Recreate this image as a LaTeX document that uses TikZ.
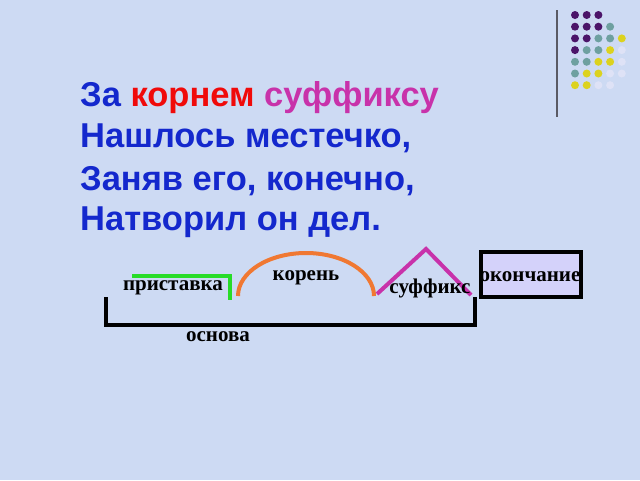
\documentclass[tikz,border=0pt]{standalone}
\usepackage{fontspec}
\setmainfont{Liberation Serif}
\setsansfont{Liberation Sans}
\definecolor{bg}{RGB}{205,218,243}
\definecolor{poemblue}{RGB}{20,40,205}
\definecolor{rootred}{RGB}{240,10,10}
\definecolor{sufmag}{RGB}{200,50,170}
\definecolor{prefgreen}{RGB}{40,220,40}
\definecolor{rootorange}{RGB}{240,120,50}
\definecolor{endfill}{RGB}{212,210,250}
\definecolor{dotP}{RGB}{75,20,105}
\definecolor{dotT}{RGB}{110,160,160}
\definecolor{dotY}{RGB}{220,210,30}
\definecolor{dotW}{RGB}{222,226,246}
\definecolor{rulegray}{RGB}{90,90,100}
\begin{document}
\begin{tikzpicture}[x=1pt,y=-1pt,
  poem/.style={anchor=base west,inner sep=0pt,text=poemblue,font=\sffamily\bfseries\fontsize{34.5}{34.5}\selectfont},
  lbl/.style={inner sep=0pt,text=black,font=\bfseries\fontsize{21}{21}\selectfont},
  part/.style={line width=4pt}]
\fill[bg] (0,0) rectangle (640,480);
\useasboundingbox (0,0) rectangle (640,480);
% decoration
\draw[rulegray,line width=1.5pt] (557,10) -- (557,117);
\foreach \r/\row in {0/{P,P,P},1/{P,P,P,T},2/{P,P,T,T,Y},3/{P,T,T,Y,W},4/{T,T,Y,Y,W},5/{T,Y,Y,W,W},6/{Y,Y,W,W}}{
  \foreach \c [count=\i from 0] in \row {
    \fill[dot\c] ({575+11.7*\i},{15+11.7*\r}) circle (4);
  }
}
% poem
\node[poem] (l1) at (80,106) {За \textcolor{rootred}{корнем} \textcolor{sufmag}{суффиксу}};
\node[poem] (l2) at (80,147.5) {Нашлось местечко,};
\node[poem] (l3) at (80,190.5) {Заняв его, конечно,};
\node[poem] (l4) at (80,230.5) {Натворил он дел.};
% base bracket
\draw[black,part,line width=4.5pt] (106,297) -- (106,325) -- (475,325) -- (475,297);
% prefix
\draw[prefgreen,part] (132,276) -- (230,276) -- (230,300);
% root
\draw[rootorange,part] (238,296) arc[start angle=180,end angle=360,x radius=68,y radius=43];
% suffix
\draw[sufmag,part] (377,294) -- (426,249) -- (471,295);
% ending box
\node[draw=black,line width=4pt,fill=endfill,minimum width=100pt,minimum height=45pt,inner sep=0pt] (endbox) at (531,274.5) {};
% labels
\node[lbl] (pref) at (173,288) {приставка};
\node[lbl] (root) at (306,278) {корень};
\node[lbl] (suf) at (430,288) {суффикс};
\node[lbl] (endt) at (530,277) {окончание};
\node[lbl] (osn) at (218,337) {основа};
\end{tikzpicture}
\end{document}
